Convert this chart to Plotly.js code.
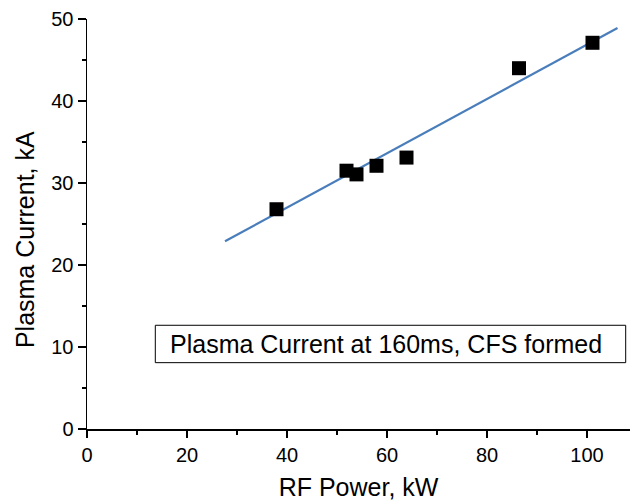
<!DOCTYPE html>
<html>
<head>
<meta charset="utf-8">
<script src="https://cdn.plot.ly/plotly-3.0.1.min.js"></script>
<style>html,body{margin:0;padding:0;background:#fff;}#chart{width:630px;height:502px;}</style>
</head>
<body>
<div id="chart"></div>
<script>
// Measured data points
const rfPower = [37.9, 51.9, 53.9, 57.9, 63.9, 86.4, 101.1];
const plasmaCurrent = [26.8, 31.5, 31.05, 32.1, 33.1, 44.0, 47.1];
// Linear fit line endpoints (as drawn)
const fitX = [27.6, 106.1];
const fitY = [22.9, 48.9];
const xTickVals = [0, 20, 40, 60, 80, 100];
const yTickVals = [0, 10, 20, 30, 40, 50];
const labelText = 'Plasma Current at 160ms, CFS formed';
const xTitle = 'RF Power, kW';
const yTitle = 'Plasma Current, kA';

const fontFam = 'Arial, "Liberation Sans", sans-serif';

const data = [
  {x: fitX, y: fitY, type: 'scatter', mode: 'lines',
   line: {color: '#4a7ebb', width: 2.2}, hoverinfo: 'skip', showlegend: false},
  {x: rfPower, y: plasmaCurrent, type: 'scatter', mode: 'markers',
   marker: {symbol: 'square', size: 14, color: '#000'}, showlegend: false, cliponaxis: false}
];

const layout = {
  width: 630, height: 502,
  margin: {l: 87, r: 0, t: 19, b: 73},
  paper_bgcolor: '#fff', plot_bgcolor: '#fff',
  font: {family: fontFam, color: '#000'},
  showlegend: false,
  xaxis: {
    range: [0, 108.6], tickvals: xTickVals, showgrid: false, zeroline: false,
    showline: true, linecolor: '#000', linewidth: 1.5,
    ticks: 'outside', ticklen: 7, tickwidth: 1.5, tickcolor: '#000',
    minor: {dtick: 10, ticks: 'outside', ticklen: 4, tickwidth: 1.5, tickcolor: '#000', showgrid: false},
    tickfont: {size: 20, family: fontFam, color: '#000'},
    title: {text: xTitle, font: {size: 25, family: fontFam, color: '#000'}, standoff: 14},
    automargin: false, fixedrange: true
  },
  yaxis: {
    range: [0, 50], tickvals: yTickVals, showgrid: false, zeroline: false,
    showline: true, linecolor: '#000', linewidth: 1.5,
    ticks: 'outside', ticklen: 8, tickwidth: 1.5, tickcolor: '#000',
    minor: {dtick: 5, ticks: 'outside', ticklen: 4, tickwidth: 1.5, tickcolor: '#000', showgrid: false},
    tickfont: {size: 20, family: fontFam, color: '#000'},
    automargin: false, fixedrange: true
  },
  shapes: [{
    type: 'rect', xref: 'x', yref: 'y', x0: 13.66, x1: 107.74, y0: 8.09, y1: 12.65,
    line: {color: '#000', width: 1}, fillcolor: '#fff', layer: 'below'
  }],
  annotations: [{
    text: labelText, xref: 'x', yref: 'y', x: 16.2, y: 10.37,
    xanchor: 'left', yanchor: 'middle', showarrow: false,
    font: {size: 25, family: fontFam, color: '#000'}
  }, {
    text: yTitle, xref: 'paper', yref: 'paper', x: -0.114, y: 0.461,
    xanchor: 'center', yanchor: 'middle', showarrow: false, textangle: -90,
    font: {size: 25, family: fontFam, color: '#000'}
  }]
};

Plotly.newPlot('chart', data, layout, {displayModeBar: false, staticPlot: true});
</script>
</body>
</html>
